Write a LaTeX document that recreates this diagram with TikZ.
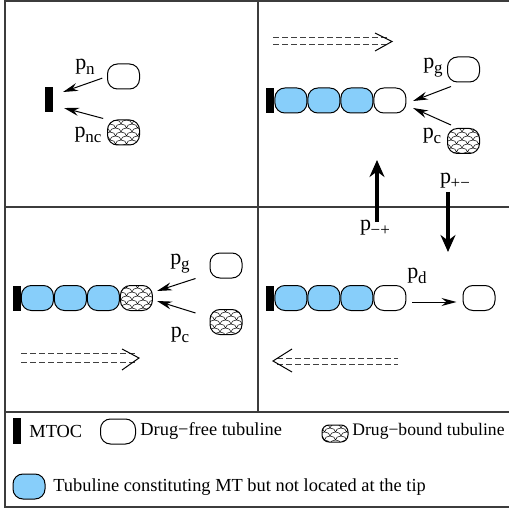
\documentclass[tikz,border=0pt]{standalone}
\usepackage{fontspec}
\setmainfont{Liberation Serif}
\usetikzlibrary{arrows.meta, positioning, patterns}

\definecolor{tubblue}{RGB}{135,206,250}
\definecolor{framegray}{RGB}{60,60,60}

% fish scales for the drug-bound tubuline
\pgfdeclarepatternformonly{scales}{\pgfqpoint{-0.2pt}{-0.2pt}}{\pgfqpoint{5.7pt}{4.2pt}}{\pgfqpoint{5.5pt}{4pt}}{%
  \pgfsetlinewidth{0.25pt}
  \pgfpathmoveto{\pgfqpoint{0pt}{0pt}}
  \pgfpatharc{180}{0}{2.75pt and 2pt}
  \pgfpathmoveto{\pgfqpoint{0pt}{4pt}}
  \pgfpatharc{90}{0}{2.75pt and 2pt}
  \pgfpathmoveto{\pgfqpoint{2.75pt}{2pt}}
  \pgfpatharc{180}{90}{2.75pt and 2pt}
  \pgfusepath{stroke}}

\newcommand{\prob}[1]{p\kern-0.2pt\raisebox{-0.5ex}{\fontsize{8.5}{9}\selectfont #1}}

\tikzset{
  tub/.style={draw, rounded corners=5pt, minimum width=16pt, minimum height=12.5pt, inner sep=0pt, line width=0.5pt},
  free/.style={tub},
  bound/.style={tub, pattern=scales},
  inner/.style={tub, fill=tubblue},
  mtoc/.style={fill=black, minimum width=4pt, minimum height=12.5pt, inner sep=0pt},
  rate/.style={inner sep=0pt, font=\fontsize{11}{12}\selectfont},
  legend/.style={inner sep=0pt, anchor=west, font=\fontsize{9.2}{11}\selectfont},
  arr/.style={-{Stealth[length=7.5pt, width=4pt]}, line width=0.5pt},
  bigarr/.style={-{Stealth[length=8.5pt, width=7.5pt]}, line width=1.6pt},
  flux/.style={draw=black!75, line width=0.5pt, dash pattern=on 3pt off 1.5pt},
  chev/.style={line width=0.5pt},
  frame/.style={draw=framegray, line width=0.8pt}
}

\begin{document}
\begin{tikzpicture}[x=0.5pt, y=-0.5pt]
  \useasboundingbox (0,0) rectangle (509,508);

  % panels
  \draw[frame] (5,1) rectangle (530,507);
  \draw[frame] (5,207) -- (530,207);
  \draw[frame] (5,412) -- (530,412);
  \draw[frame] (258,1) -- (258,412);

  % top left: nucleation
  \node[mtoc] (mtoc1) at (48.5,100) {};
  \node[free] (fn1) at (123.5,76.5) {};
  \node[bound] (bn1) at (123.5,132.5) {};
  \coordinate (n1) at (63,92);
  \coordinate (nc1) at (64,108);
  \draw[arr, shorten <=2.5pt] (fn1.west) -- (n1);
  \draw[arr, shorten <=2pt] (bn1.north west) -- (nc1);
  \node[rate] (ln1) at (85,67) {\prob{n}};
  \node[rate] (lnc1) at (88,135) {\prob{nc}};

  % top right: growing MT
  \node[mtoc] (mtoc2) at (270,100.5) {};
  \node[inner, right=0pt of mtoc2] (t21) {};
  \node[inner, right=0pt of t21] (t22) {};
  \node[inner, right=0pt of t22] (t23) {};
  \node[free, right=0pt of t23] (t24) {};
  \node[free] (fn2) at (463.5,69.5) {};
  \node[bound] (bn2) at (463.5,141) {};
  \coordinate (g2) at (413,101);
  \coordinate (c2) at (413,108);
  \draw[arr] ([xshift=2pt,yshift=-2pt]fn2.south west) -- (g2);
  \draw[arr] ([xshift=2pt,yshift=1.5pt]bn2.north west) -- (c2);
  \node[rate] (lg2) at (433,68) {\prob{g}};
  \node[rate] (lc2) at (432,136) {\prob{c}};
  \draw[flux] (273,38) -- (388,38) (273,45) -- (388,45);
  \draw[chev] (375,33) -- (392,41.5) -- (375,51);

  % bottom left: capped MT
  \node[mtoc] (mtoc3) at (16.5,298) {};
  \node[inner, right=0pt of mtoc3] (t31) {};
  \node[inner, right=0pt of t31] (t32) {};
  \node[inner, right=0pt of t32] (t33) {};
  \node[bound, right=0pt of t33] (t34) {};
  \node[free] (fn3) at (226,265.5) {};
  \node[bound] (bn3) at (226,322) {};
  \coordinate (g3) at (157,291);
  \coordinate (c3) at (157,301);
  \draw[arr] ([xshift=-7pt]fn3.south west) -- (g3);
  \draw[arr] ([xshift=-7pt,yshift=-2pt]bn3.north west) -- (c3);
  \node[rate] (lg3) at (180,264) {\prob{g}};
  \node[rate] (lc3) at (180,335) {\prob{c}};
  \draw[flux] (21,353) -- (136,353) (21,362) -- (136,362);
  \draw[chev] (122,349) -- (139,358) -- (122,370);

  % bottom right: shrinking MT
  \node[mtoc] (mtoc4) at (270,298) {};
  \node[inner, right=0pt of mtoc4] (t41) {};
  \node[inner, right=0pt of t41] (t42) {};
  \node[inner, right=0pt of t42] (t43) {};
  \node[free, right=0pt of t43] (t44) {};
  \node[free] (fn4) at (479,298) {};
  \draw[arr, shorten <=3pt, shorten >=3pt] ([yshift=-2pt]t44.east) -- ([yshift=-2pt]fn4.west);
  \node[rate] (ld4) at (417,276) {\prob{d}};
  \draw[flux] (277,358) -- (398,358) (277,364) -- (398,364);
  \draw[chev] (292,349) -- (273,361) -- (292,372);

  % switching between states
  \node[rate] (lmp) at (375,228) {\prob{−+}};
  \node[rate] (lpm) at (455,181) {\prob{+−}};
  \coordinate (up) at (377,160);
  \coordinate (down) at (448,252);
  \draw[bigarr] (377,222) -- (up);
  \draw[bigarr] (448,192) -- (down);

  % legend
  \node[mtoc, minimum height=13pt] (kmtoc) at (17,431) {};
  \node[legend] (kmtoct) at (29,431) {MTOC};
  \node[free, minimum width=17.5pt] (kfree) at (118,431.5) {};
  \node[legend] (kfreet) at (140,431) {Drug−free tubuline};
  \node[bound, minimum width=13pt, minimum height=8.5pt, rounded corners=3.5pt] (kbound) at (335,433.5) {};
  \node[legend, font=\fontsize{8.8}{11}\selectfont] (kboundt) at (352,431) {Drug−bound tubuline};
  \node[inner] (kinner) at (29,486.5) {};
  \node[legend] (kinnert) at (53,487) {Tubuline constituting MT but not located at the tip};
\end{tikzpicture}
\end{document}
